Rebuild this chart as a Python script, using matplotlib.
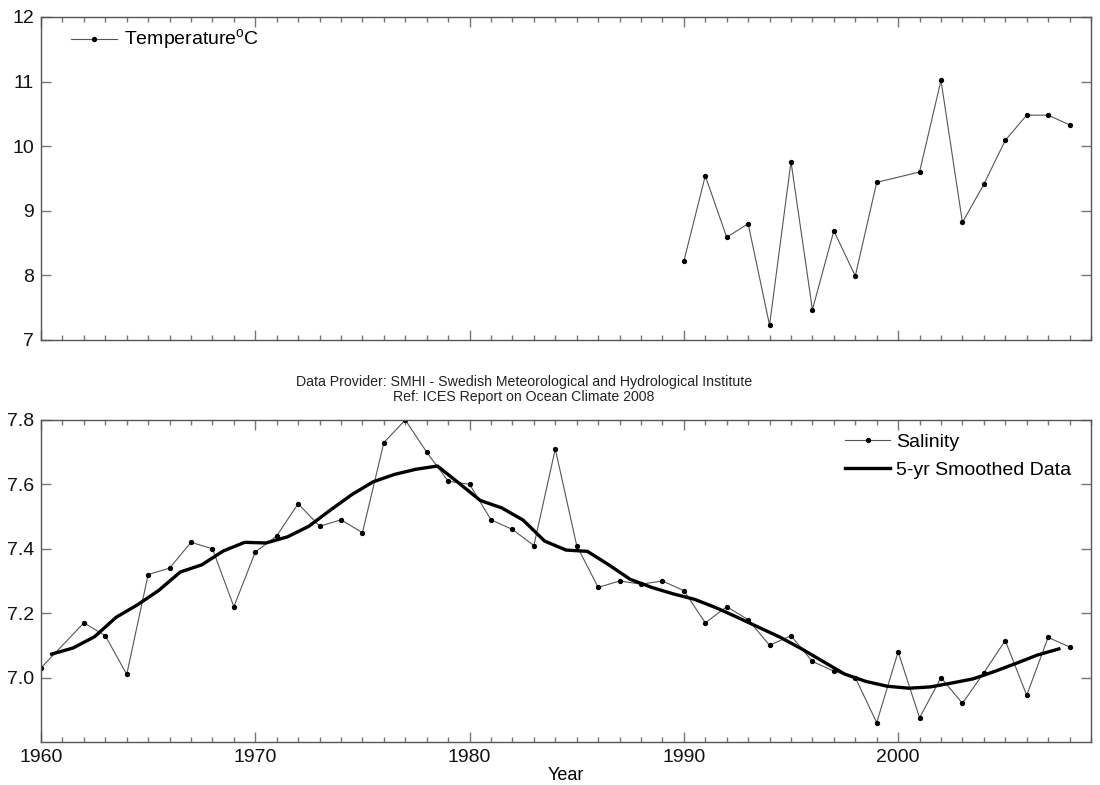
import matplotlib
matplotlib.use("Agg")
import matplotlib.pyplot as plt
import numpy as np
from matplotlib.ticker import MultipleLocator, FormatStrFormatter

plt.rcParams['font.family'] = ['Liberation Sans', 'DejaVu Sans']

# Temperature (top panel)
temp_years = [1990, 1991, 1992, 1993, 1994, 1995, 1996, 1997, 1998, 1999,
              2001, 2002, 2003, 2004, 2005, 2006, 2007, 2008]
temp_values = [8.22, 9.54, 8.59, 8.80, 7.23, 9.76, 7.47, 8.69, 7.99, 9.44,
               9.60, 11.02, 8.82, 9.41, 10.09, 10.48, 10.48, 10.33]

# Salinity (bottom panel)
sal_years = [1960, 1962, 1963, 1964, 1965, 1966, 1967, 1968, 1969, 1970,
             1971, 1972, 1973, 1974, 1975, 1976, 1977, 1978, 1979, 1980,
             1981, 1982, 1983, 1984, 1985, 1986, 1987, 1988, 1989, 1990,
             1991, 1992, 1993, 1994, 1995, 1996, 1997, 1998, 1999, 2000,
             2001, 2002, 2003, 2004, 2005, 2006, 2007, 2008]
sal_values = [7.03, 7.17, 7.13, 7.01, 7.32, 7.34, 7.42, 7.40, 7.22, 7.39,
              7.44, 7.54, 7.47, 7.49, 7.45, 7.73, 7.80, 7.70, 7.61, 7.60,
              7.49, 7.46, 7.41, 7.71, 7.41, 7.28, 7.30, 7.29, 7.30, 7.27,
              7.17, 7.22, 7.18, 7.10, 7.13, 7.05, 7.02, 7.00, 6.86, 7.08,
              6.875, 7.00, 6.92, 7.015, 7.115, 6.945, 7.125, 7.095]

# 5-yr smoothed data (plotted at half years 1960.5 ... 2007.5)
smooth_years = [1960.5 + i for i in range(48)]
smooth_values = [7.073, 7.092, 7.127, 7.187, 7.226, 7.271, 7.328, 7.350, 7.393, 7.420,
                 7.418, 7.437, 7.470, 7.520, 7.568, 7.608, 7.631, 7.647, 7.657, 7.604,
                 7.550, 7.527, 7.489, 7.424, 7.396, 7.392, 7.350, 7.305, 7.280, 7.260,
                 7.243, 7.217, 7.187, 7.156, 7.125, 7.089, 7.050, 7.011, 6.988, 6.973,
                 6.967, 6.971, 6.983, 6.996, 7.019, 7.044, 7.070, 7.089]

fig = plt.figure(figsize=(11, 7.85), dpi=100)
ax1 = fig.add_axes([0.0373, 0.5669, 0.9545, 0.4115])
ax2 = fig.add_axes([0.0373, 0.0548, 0.9545, 0.4102])

spine_c = '#555555'
tick_c = '#777777'

def style(ax):
    for s in ax.spines.values():
        s.set_color(spine_c)
        s.set_linewidth(1.0)
    ax.tick_params(which='both', direction='in', top=True, right=True,
                   color=tick_c, labelsize=14, labelcolor='#111111')
    ax.tick_params(which='major', length=7.5, width=1.0, pad=5)
    ax.tick_params(which='minor', length=3.6, width=1.0)
    ax.xaxis.set_major_locator(MultipleLocator(10))
    ax.xaxis.set_minor_locator(MultipleLocator(1))
    ax.set_xlim(1960, 2009)

# Top panel
ax1.plot(temp_years, temp_values, color='#555555', lw=0.8, marker='o',
         ms=2.8, mfc='black', mec='black', label=r'Temperature$^\mathregular{o}$C')
style(ax1)
ax1.set_ylim(7, 12)
ax1.yaxis.set_major_locator(MultipleLocator(1))
ax1.tick_params(axis='x', labelbottom=False)
ax1.legend(loc='upper left', frameon=False, fontsize=14, handlelength=2.35,
           handletextpad=0.35, borderaxespad=0.3, bbox_to_anchor=(0.016, 1.009))

# Bottom panel
ax2.plot(sal_years, sal_values, color='#555555', lw=0.8, marker='o',
         ms=2.8, mfc='black', mec='black', label='Salinity')
ax2.plot(smooth_years, smooth_values, color='black', lw=2.4,
         label='5-yr Smoothed Data')
style(ax2)
ax2.set_ylim(6.8, 7.8)
ax2.set_yticks([7.0, 7.2, 7.4, 7.6, 7.8])
ax2.yaxis.set_major_formatter(FormatStrFormatter('%.1f'))
ax2.set_xlabel('Year', fontsize=13, labelpad=1)
ax2.text(0.46, 1.049, 'Data Provider: SMHI - Swedish Meteorological and Hydrological Institute\n'
         'Ref: ICES Report on Ocean Climate 2008', transform=ax2.transAxes,
         ha='center', va='bottom', fontsize=10.2, color='#222222',
         linespacing=1.15, multialignment='center')
ax2.legend(loc='upper right', frameon=False, fontsize=14, handlelength=2.3,
           handletextpad=0.3, borderaxespad=0.3, bbox_to_anchor=(0.994, 1.0))

fig.savefig('out.png', dpi=100)
